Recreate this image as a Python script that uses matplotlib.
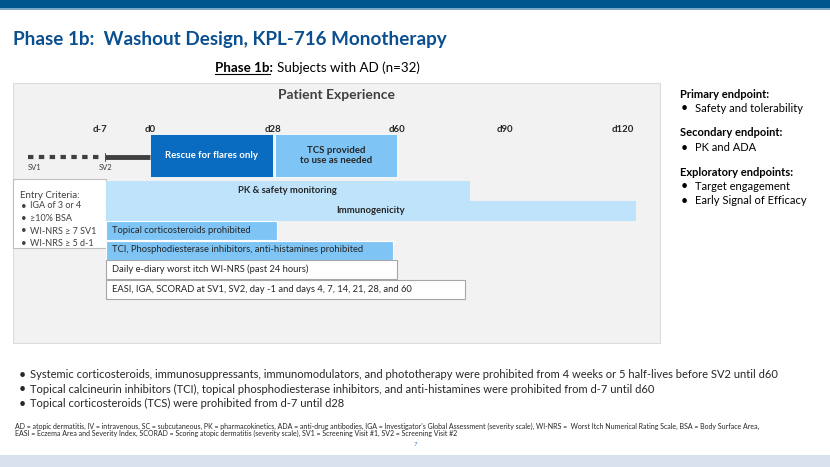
import numpy as np
import matplotlib.pyplot as plt
from matplotlib.patches import Rectangle

plt.rcParams['font.family'] = ['Lato', 'DejaVu Sans']

# timeline data (study days)
tick_days = [-7, 0, 28, 60, 90, 120]
tick_labels = ['d-7', 'd0', 'd28', 'd60', 'd90', 'd120']

period_labels = ['Rescue for flares only', 'TCS provided\nto use as needed']
period_start = [0, 28.5]
period_end = [28, 60]

row_labels = ['PK & safety monitoring', 'Immunogenicity',
              'Topical corticosteroids prohibited',
              'TCI, Phosphodiesterase inhibitors, anti-histamines prohibited',
              'Daily e-diary worst itch WI-NRS (past 24 hours)',
              'EASI, IGA, SCORAD at SV1, SV2, day -1 and days 4, 7, 14, 21, 28, and 60']
row_start = [-7, -7, -7, -7, -7, -7]
row_end = [80, 123, 29, 59, 60, 79]

screening_days = [-35, -7]
screening_labels = ['SV1', 'SV2']

entry_criteria = ['IGA of 3 or 4', '\u226510% BSA', 'WI-NRS \u2265 7 SV1', 'WI-NRS \u2265 5 d-1']

endpoints = [('Primary endpoint:', ['Safety and tolerability']),
             ('Secondary endpoint:', ['PK and ADA']),
             ('Exploratory endpoints:', ['Target engagement', 'Early Signal of Efficacy'])]

notes = ['Systemic corticosteroids, immunosuppressants, immunomodulators, and phototherapy were prohibited from 4 weeks or 5 half-lives before SV2 until d60',
         'Topical calcineurin inhibitors (TCI), topical phosphodiesterase inhibitors, and anti-histamines were prohibited from d-7 until d60',
         'Topical corticosteroids (TCS) were prohibited from d-7 until d28']

footnote = ("AD = atopic dermatitis, IV = intravenous, SC = subcutaneous, PK = pharmacokinetics, ADA = anti-drug antibodies, "
            "IGA = Investigator's Global Assessment (severity scale), WI-NRS =  Worst Itch Numerical Rating Scale, BSA = Body Surface Area,\n"
            "EASI = Eczema Area and Severity Index, SCORAD = Scoring atopic dermatitis (severity scale), SV1 = Screening Visit #1, SV2 = Screening Visit #2")

# schematic (non linear) day axis -> page pixels
day_anchor = np.array([-100, -35, -7, 0, 28, 60, 90, 120, 200])
px_anchor = np.array([-153, 28, 106, 150, 273, 397, 505, 623, 935])

def fwd(d):
    return np.interp(d, day_anchor, px_anchor)

def inv(p):
    return np.interp(p, px_anchor, day_anchor)

W, H = 830, 467
fig = plt.figure(figsize=(8.3, 4.67), dpi=100)
bg = fig.add_axes([0, 0, 1, 1])
bg.set_xlim(0, W)
bg.set_ylim(H, 0)
bg.axis('off')

dark = '#262626'

# top band / bottom band
bg.add_patch(Rectangle((0, 0), W, 8, color='#00558f', lw=0))
bg.add_patch(Rectangle((0, 8), W, 1.5, color='#7aa6c8', lw=0))
bg.add_patch(Rectangle((0, 455), W, 12, color='#d9e2ec', lw=0))

bg.text(13, 40, 'Phase 1b:  Washout Design, KPL-716 Monotherapy', fontsize=13.6,
        fontweight='bold', color='#0a4f8f', va='center')

# subtitle with underlined lead-in
lead = bg.text(215, 68, 'Phase 1b:', fontsize=9.6, fontweight='bold', ha='left', va='center', color='black')
fig.canvas.draw()
bb = lead.get_window_extent()
x_end = bb.x1  # pixels == data units here
bg.plot([215, x_end - 3], [73.5, 73.5], color='black', lw=0.8)
bg.text(x_end + 4, 68, 'Subjects with AD (n=32)', fontsize=9.6, ha='left', va='center', color='black')

# gray panel
bg.add_patch(Rectangle((13, 83), 647, 260, facecolor='#f2f2f2', edgecolor='#dcdcdc', lw=0.8))
bg.text(336, 95, 'Patient Experience', fontsize=10, fontweight='bold', color='#404040', ha='center', va='center')

# timeline axes (same page frame, day scale on x)
ax = fig.add_axes([0, 0, 1, 1])
ax.set_xscale('function', functions=(fwd, inv))
ax.set_xlim(inv(0), inv(W))
ax.set_ylim(H, 0)
ax.axis('off')

for d, lab in zip(tick_days, tick_labels):
    if d < 0:
        ax.text(inv(fwd(d) + 1), 129, lab, fontsize=6.9, fontweight='bold', ha='right', va='center', color=dark)
    else:
        ax.text(d, 129, lab, fontsize=6.9, fontweight='bold', ha='center', va='center', color=dark)

# screening line
ax.plot([screening_days[0], screening_days[1] - 1.2], [157, 157], color='#404040', lw=3, ls=(0, (1.3, 1.3)))
ax.plot([screening_days[1] - 0.5, 0], [157, 157], color='#404040', lw=3.5, solid_capstyle='butt')
ax.plot([screening_days[1] - 0.5] * 2, [153, 161], color='#404040', lw=0.6)
for d, lab in zip(screening_days, screening_labels):
    ax.text(d, 168, lab, fontsize=5.5, ha='left' if d < -10 else 'center', va='center', color='#404040')

# treatment periods
pcol = ['#0a6cc0', '#7ec4f5']
ptxt = ['white', dark]
ax.barh([155.5] * 2, np.subtract(period_end, period_start), left=period_start, height=43,
        color=pcol, edgecolor='white', lw=0.6)
for s, e, lab, c in zip(period_start, period_end, period_labels, ptxt):
    ax.text(inv((fwd(s) + fwd(e)) / 2), 155.5, lab, fontsize=6.9,
            fontweight='bold', color=c, ha='center', va='center', linespacing=1.1)

# activity rows
row_y = [190.5, 210.5, 230.5, 250, 269.5, 289.5]
row_fc = ['#bee3fb', '#bee3fb', '#7ec4f5', '#7ec4f5', 'white', 'white']
row_ec = ['#bee3fb', '#bee3fb', 'white', 'white', '#a6a6a6', '#a6a6a6']
ax.barh(row_y, np.subtract(row_end, row_start), left=row_start, height=19,
        color=row_fc, edgecolor=row_ec, lw=0.8)
for i, lab in enumerate(row_labels):
    if i < 2:
        ax.text(inv((fwd(row_start[i]) + fwd(row_end[i])) / 2), row_y[i], lab, fontsize=6.8,
                fontweight='bold', color=dark, ha='center', va='center')
    else:
        ax.text(inv(fwd(row_start[i]) + 6), row_y[i], lab, fontsize=6.75, color=dark, ha='left', va='center')

# entry criteria box
bg.add_patch(Rectangle((13, 179), 93, 69, facecolor='white', edgecolor='#bfbfbf', lw=0.8, zorder=5))
bg.text(20, 195, 'Entry Criteria:', fontsize=7, color='#404040', va='center', zorder=6)
for i, t in enumerate(entry_criteria):
    y = 206 + i * 12.5
    bg.text(21, y, '\u2022', fontsize=7, color='#404040', va='center', zorder=6)
    bg.text(30, y, t, fontsize=6.5, color='#404040', va='center', zorder=6)

# endpoints
y = 94
for head, items in endpoints:
    bg.text(680, y, head, fontsize=8, fontweight='bold', color='black', va='center')
    y += 14.5
    for it in items:
        bg.text(681, y, '\u2022', fontsize=9, color='black', va='center')
        bg.text(695, y, it, fontsize=8, color='black', va='center')
        y += 14.5
    y += 10

# bottom notes
for i, t in enumerate(notes):
    y = 375 + i * 14.3
    bg.text(19, y, '\u2022', fontsize=9, color=dark, va='center')
    bg.text(30, y, t, fontsize=8, color=dark, va='center')

bg.text(15, 430, footnote, fontsize=5.05, color=dark, va='center', linespacing=1.1)
bg.text(415, 445, '7', fontsize=4.5, color='#4f81bd', ha='center', va='center')

fig.savefig('out.png', dpi=100)
